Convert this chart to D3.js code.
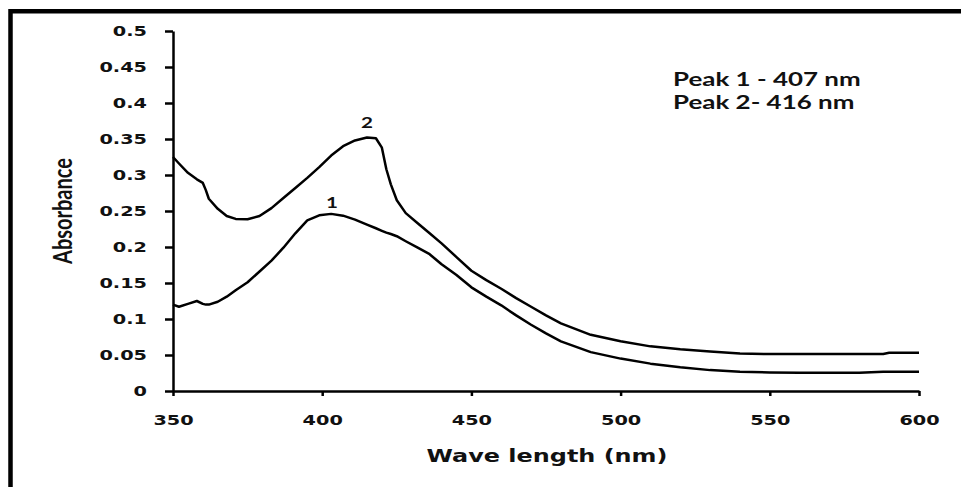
<!DOCTYPE html>
<meta charset="utf-8">
<body style="margin:0;background:#fff">
<div id="div-svg"></div>
<style>
  text { fill: #111; }
  .tick text { font-family: "DejaVu Sans"; font-weight: bold; font-size: 14.5px; }
  .axis path, .axis line { stroke: #000; stroke-width: 2.5px; }
</style>

<script src="https://cdnjs.cloudflare.com/ajax/libs/d3/7.8.5/d3.min.js"></script>
<script>
    var width = 961;
    var height = 487;
    var stretch = 1.33;   // the picture is squeezed wide, so all text is too

    var wavelength = [350, 352, 355, 358, 360, 361, 362, 365, 368, 371, 375, 379, 383, 387, 391, 395, 399,
      403, 407, 411, 415, 418, 420, 421.5, 423, 425, 428, 432, 436, 440, 445, 450, 455, 460, 465, 470,
      475, 480, 490, 500, 510, 520, 530, 540, 550, 560, 570, 580, 588, 590, 600];
    var absorbance1 = [0.120, 0.117, 0.121, 0.125, 0.121, 0.120, 0.120, 0.124, 0.131, 0.140, 0.151, 0.166,
      0.181, 0.199, 0.219, 0.237, 0.244, 0.246, 0.2435, 0.238, 0.231, 0.226, 0.2225, 0.220, 0.218, 0.215,
      0.208, 0.199, 0.190, 0.176, 0.161, 0.144, 0.131, 0.119, 0.105, 0.092, 0.080, 0.069, 0.054, 0.045,
      0.038, 0.033, 0.029, 0.0268, 0.0258, 0.0254, 0.0254, 0.0254, 0.0268, 0.0268, 0.0268];
    var absorbance2 = [0.325, 0.316, 0.303, 0.294, 0.289, 0.279, 0.267, 0.253, 0.243, 0.239, 0.2385, 0.243,
      0.254, 0.268, 0.282, 0.296, 0.311, 0.327, 0.340, 0.348, 0.352, 0.351, 0.338, 0.308, 0.287, 0.265,
      0.247, 0.233, 0.219, 0.205, 0.186, 0.167, 0.154, 0.142, 0.129, 0.117, 0.105, 0.094, 0.078, 0.069,
      0.062, 0.058, 0.055, 0.052, 0.0514, 0.0514, 0.0514, 0.0514, 0.0514, 0.0532, 0.0532];

    var xTicks = [350, 400, 450, 500, 550, 600];
    var yTicks = [0, 0.05, 0.1, 0.15, 0.2, 0.25, 0.3, 0.35, 0.4, 0.45, 0.5];
    var curveNames = ["1", "2"];
    var curveNameAt = [[403.3, 0.254], [415, 0.365]];
    var peakNotes = ["Peak 1 - 407 nm", "Peak 2- 416 nm"];

    var svg = d3.select("#div-svg").append("svg")
        .attr("width", width)
        .attr("height", height);

    var x = d3.scaleLinear().domain([350, 600]).range([173, 919]);
    var y = d3.scaleLinear().domain([0, 0.5]).range([391, 31]);

    // frame (top and left only show in the picture)
    svg.append("path")
      .attr("d", "M10.5," + height + "V11.3H" + width)
      .attr("fill", "none")
      .attr("stroke", "#000")
      .attr("stroke-width", 4.5);

    var yAxis = svg.append("g")
      .attr("class", "axis")
      .attr("transform", "translate(" + x(350) + ",0)")
      .call(d3.axisLeft(y).tickValues(yTicks).tickSize(8).tickSizeOuter(0)
        .tickFormat(function(d){ return +d.toFixed(2); }));
    yAxis.selectAll(".tick text")
      .attr("x", -26 / stretch)
      .attr("transform", "scale(" + stretch + ",1)");

    var xAxis = svg.append("g")
      .attr("class", "axis")
      .attr("transform", "translate(0," + y(0) + ")")
      .call(d3.axisBottom(x).tickValues(xTicks).tickSize(5).tickSizeOuter(0));
    xAxis.selectAll(".tick text")
      .attr("y", 24)
      .attr("transform", "scale(" + stretch + ",1)");

    var line = d3.line()
      .x(function(d){ return x(d[0]); })
      .y(function(d){ return y(d[1]); });

    [absorbance1, absorbance2].forEach(function(series) {
      svg.append("path")
        .datum(wavelength.map(function(w, i){ return [w, series[i]]; }))
        .attr("d", line)
        .attr("fill", "none")
        .attr("stroke", "#000")
        .attr("stroke-width", 2.5)
        .attr("stroke-linejoin", "round");
    });

    svg.selectAll(".curve-name")
      .data(curveNames)
      .enter()
      .append("text")
      .attr("class", "curve-name")
      .attr("text-anchor", "middle")
      .attr("transform", function(d, i){
        return "translate(" + x(curveNameAt[i][0]) + "," + y(curveNameAt[i][1]) + ") scale(" + stretch + ",1)";
      })
      .style("font-family", "Lato")
      .style("font-weight", "bold")
      .style("font-size", "15.5px")
      .text(function(d){ return d; });

    svg.selectAll(".peak-note")
      .data(peakNotes)
      .enter()
      .append("text")
      .attr("class", "peak-note")
      .attr("transform", function(d, i){
        return "translate(673," + (86 + i * 23) + ") scale(" + stretch + ",1)";
      })
      .style("font-family", "Lato")
      .style("font-weight", "bold")
      .style("font-size", "19.5px")
      .text(function(d){ return d; });

    svg.append("text")
      .attr("text-anchor", "middle")
      .attr("transform", "translate(547,462) scale(" + stretch + ",1)")
      .style("font-family", "DejaVu Sans")
      .style("font-weight", "bold")
      .style("font-size", "18px")
      .text("Wave length (nm)");

    svg.append("text")
      .attr("text-anchor", "middle")
      .attr("transform", "translate(72,211) scale(" + stretch + ",1) rotate(-90)")
      .style("font-family", "Lato")
      .style("font-weight", "bold")
      .style("font-size", "20px")
      .text("Absorbance");
</script>
</body>
